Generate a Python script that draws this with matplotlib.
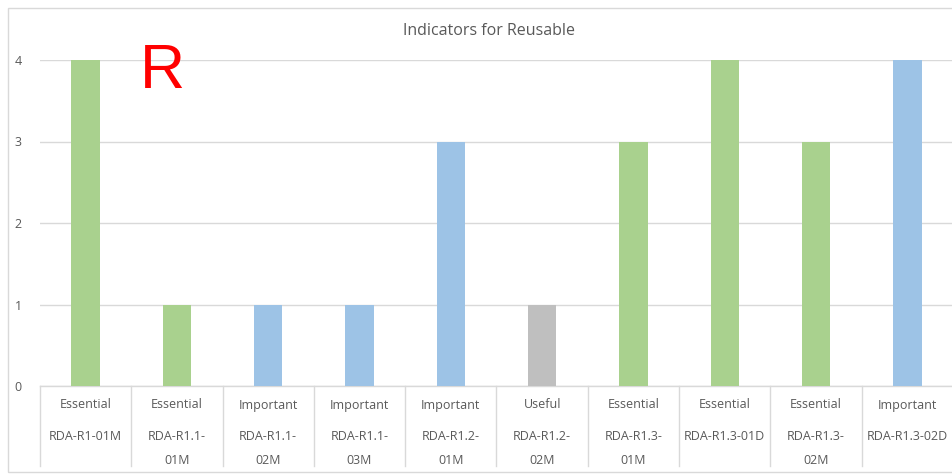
import matplotlib
matplotlib.use("Agg")
import matplotlib.pyplot as plt
from matplotlib.patches import Rectangle
from matplotlib.lines import Line2D
import matplotlib.transforms as mtransforms

# Indicator data
indicators = ["RDA-R1-01M", "RDA-R1.1-\n01M", "RDA-R1.1-\n02M", "RDA-R1.1-\n03M",
              "RDA-R1.2-\n01M", "RDA-R1.2-\n02M", "RDA-R1.3-\n01M", "RDA-R1.3-01D",
              "RDA-R1.3-\n02M", "RDA-R1.3-02D"]
priorities = ["Essential", "Essential", "Important", "Important", "Important",
              "Useful", "Essential", "Essential", "Essential", "Important"]
counts = [4, 1, 1, 1, 3, 1, 3, 4, 3, 4]
y_ticks = [0, 1, 2, 3, 4]

priority_colors = {"Essential": "#A9D18E", "Important": "#9DC3E6", "Useful": "#BFBFBF"}
text_color = "#595959"
grid_color = "#D9D9D9"

W, H = 953, 474
fig = plt.figure(figsize=(W / 100, H / 100), dpi=100)
plt.rcParams["font.family"] = ["Open Sans", "DejaVu Sans"]

# outer chart frame
fig.patches.append(Rectangle((8 / W, 2 / H), 1.2, 1 - 10 / H, transform=fig.transFigure,
                             fill=False, edgecolor="#D9D9D9", linewidth=1.0))

left, right = 40 / W, 953 / W
bottom, top = 1 - 386 / H, 1 - 60 / H
ax = fig.add_axes([left, bottom, right - left, top - bottom])

x = list(range(len(counts)))
ax.bar(x, counts, width=0.31, color=[priority_colors[p] for p in priorities], zorder=3)
ax.set_xlim(-0.5, len(counts) - 0.5)
ax.set_ylim(0, 4)
ax.set_yticks(y_ticks)
ax.set_yticklabels([str(v) for v in y_ticks], fontsize=9, color=text_color)
ax.tick_params(axis="y", length=0, pad=13)
ax.set_xticks([])
ax.yaxis.grid(True, color=grid_color, linewidth=1.0, zorder=0)
for side in ["left", "right", "top"]:
    ax.spines[side].set_visible(False)
ax.spines["bottom"].set_color(grid_color)
ax.spines["bottom"].set_linewidth(1.0)

# two-level category axis below the plot
trans = mtransforms.blended_transform_factory(ax.transData, fig.transFigure)
row_y = [437, 460]
for i, (pr, ind) in enumerate(zip(priorities, indicators)):
    ax.text(i, 1 - 405 / H, pr, transform=trans, ha="center", va="center",
            fontsize=9, color=text_color, clip_on=False)
    for k, line in enumerate(ind.split("\n")):
        ax.text(i, 1 - row_y[k] / H, line, transform=trans, ha="center", va="center",
                fontsize=9, color=text_color, clip_on=False)
for b in range(len(counts) + 1):
    xb = b - 0.5
    fig.lines.append(Line2D([xb, xb], [1 - 386 / H, 1 - 466 / H], transform=trans,
                            color=grid_color, linewidth=1.0))

fig.text(489 / W, 1 - 31 / H, "Indicators for Reusable", ha="center", va="center",
         fontsize=11.5, color=text_color)
fig.text(162 / W, 1 - 72 / H, "R", ha="center", va="center", fontsize=45,
         color="#FF0000", family="Liberation Sans")

fig.savefig("out.png", dpi=100)
